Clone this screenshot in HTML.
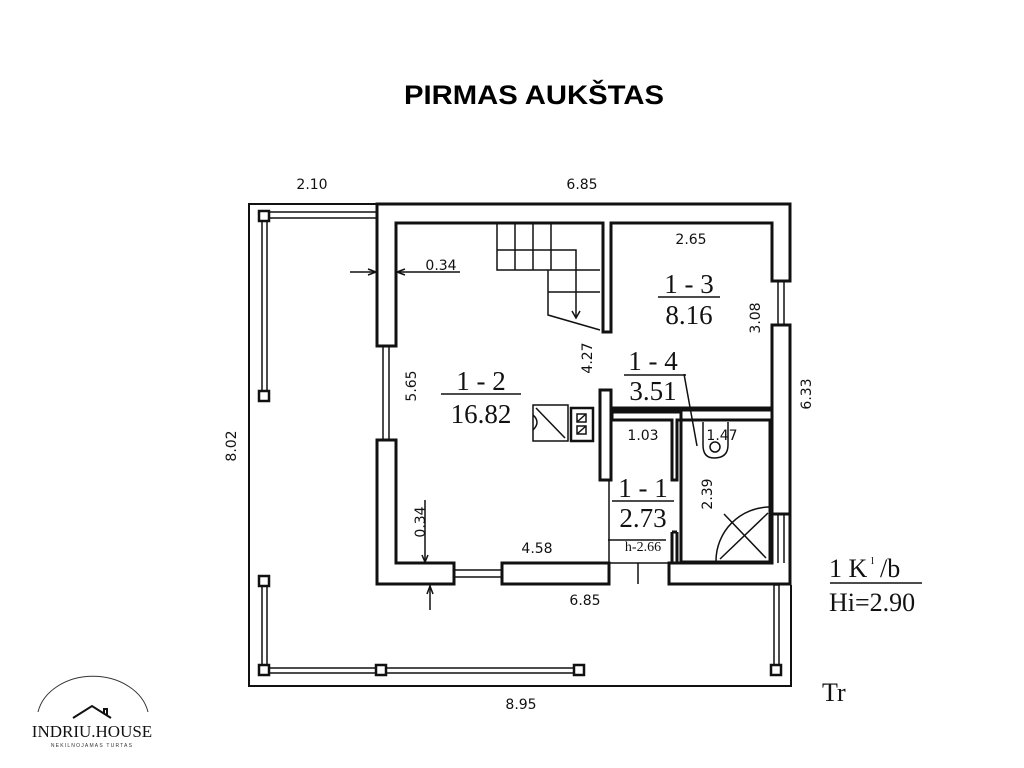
<!DOCTYPE html>
<html><head><meta charset="utf-8"><style>
html,body{margin:0;padding:0;background:#fff;width:1024px;height:768px;overflow:hidden}
svg{display:block}
.d{font-family:"DejaVu Sans","Liberation Sans",sans-serif;font-size:14px;fill:#111}
.s{font-family:"Liberation Serif",serif;fill:#111}
</style></head><body>
<svg width="1024" height="768" viewBox="0 0 1024 768" xmlns="http://www.w3.org/2000/svg">
<text x="534" y="104" text-anchor="middle" textLength="260" lengthAdjust="spacingAndGlyphs" style="font-family:'Liberation Sans',sans-serif;font-weight:bold;font-size:27px" fill="#000">PIRMAS AUKŠTAS</text>

<g fill="none" stroke="#111" stroke-width="2">
<polyline points="377,204 249,204 249,686 791,686 791,585"/>
<rect x="263" y="212" width="114" height="6" stroke-width="1.5"/>
<rect x="262" y="218" width="5" height="178" stroke-width="1.5"/>
<rect x="262" y="584" width="5" height="86" stroke-width="1.5"/>
<rect x="268" y="668" width="312" height="5" stroke-width="1.5"/>
<rect x="774" y="585" width="5" height="82" stroke-width="1.5"/>
</g>
<g fill="#fff" stroke="#111" stroke-width="2.5">
<rect x="259" y="211" width="10" height="10"/>
<rect x="259" y="391" width="10" height="10"/>
<rect x="259" y="576" width="10" height="10"/>
<rect x="259" y="665" width="10" height="10"/>
<rect x="376" y="665" width="10" height="10"/>
<rect x="574" y="665" width="10" height="10"/>
<rect x="771" y="665" width="10" height="10"/>
</g>

<g fill="none" stroke="#111" stroke-width="3">
<path d="M377,204 H790 V281 H772 V223 H611 V332 H603 V223 H396 V346 H377 Z"/>
<path d="M377,440 H396 V563 H454 V584 H377 Z"/>
<path d="M502,563 H609 V584 H502 Z"/>
<path d="M669,563 H772 V514 H790 V584 H669 Z"/>
<path d="M772,325 H790 V514 H772 Z" />
<path d="M603,390 H611 V410 H772 V408 M611,408 H772"/>
<path d="M600,390 H611 V480 H600 Z"/>
<path d="M612,412 V420 H672 V480 H677 V420 H681 V412 Z"/>
<path d="M672,532 V563 M677,532 V563 M672,532 H677"/>
<path d="M681,420 H770 V562 H681 Z"/>
</g>
<g stroke="#111" stroke-width="1.5" fill="none">
<line x1="383" y1="346" x2="383" y2="440"/><line x1="389" y1="346" x2="389" y2="440"/>
<line x1="778" y1="281" x2="778" y2="325"/><line x1="784" y1="281" x2="784" y2="325"/>
<line x1="778" y1="514" x2="778" y2="563"/><line x1="784" y1="514" x2="784" y2="563"/>
<line x1="454" y1="570" x2="502" y2="570"/><line x1="454" y1="577" x2="502" y2="577"/>
<line x1="454" y1="563" x2="454" y2="584"/><line x1="502" y1="563" x2="502" y2="584"/>
<line x1="609" y1="563" x2="669" y2="563"/>
<line x1="638" y1="563" x2="638" y2="584"/>
<line x1="609" y1="480" x2="609" y2="563"/>
<path d="M497,223 V270 H548 V315 L600,330 M515,223 V270 M533,223 V270 M551,223 V270 M497,250 H576 V315 M548,270 H600 M548,292 H600 M576,300 V318"/>
<path d="M572,311 L576,318 L580,311"/>
<rect x="533" y="405" width="35" height="36"/>
<line x1="536" y1="408" x2="565" y2="438"/>
<path d="M533,415 Q541,422 533,430"/>
<rect x="571" y="408" width="22" height="33" stroke-width="2.5"/>
<rect x="577" y="414" width="9" height="8"/><rect x="577" y="426" width="9" height="8"/>
<line x1="577" y1="422" x2="586" y2="414"/><line x1="577" y1="434" x2="586" y2="426"/>
<path d="M703,422 V445 Q703,458 714,458 Q728,458 728,445 V422"/>
<circle cx="715" cy="447" r="5"/>
<line x1="684" y1="374" x2="697" y2="446"/>
<path d="M716,561 A54,54 0 0 1 770,507"/>
<line x1="720" y1="559" x2="768" y2="513"/>
<line x1="724" y1="514" x2="766" y2="558"/>
<line x1="350" y1="272" x2="377" y2="272"/><line x1="396" y1="272" x2="460" y2="272"/>
<path d="M368,269 L376,272 L368,275 M405,269 L397,272 L405,275"/>
<line x1="425" y1="500" x2="425" y2="563"/><line x1="430" y1="585" x2="430" y2="610"/>
<path d="M422,555 L425,562 L428,555 M427,594 L430,586 L433,594"/>
<line x1="608" y1="540" x2="666" y2="540"/>
<line x1="441" y1="394" x2="521" y2="394"/>
<line x1="658" y1="297" x2="720" y2="297"/>
<line x1="624" y1="375" x2="686" y2="375"/>
<line x1="612" y1="501" x2="674" y2="501"/>
<line x1="830" y1="583" x2="922" y2="583"/>
</g>

<g class="d">
<text x="312" y="189" text-anchor="middle">2.10</text>
<text x="582" y="189" text-anchor="middle">6.85</text>
<text x="441" y="270" text-anchor="middle">0.34</text>
<text x="691" y="244" text-anchor="middle">2.65</text>
<text x="643" y="440" text-anchor="middle">1.03</text>
<text x="722" y="440" text-anchor="middle">1.47</text>
<text x="537" y="553" text-anchor="middle">4.58</text>
<text x="585" y="605" text-anchor="middle">6.85</text>
<text x="521" y="709" text-anchor="middle">8.95</text>
<text transform="translate(236,446) rotate(-90)" text-anchor="middle">8.02</text>
<text transform="translate(416,386) rotate(-90)" text-anchor="middle">5.65</text>
<text transform="translate(592,358) rotate(-90)" text-anchor="middle">4.27</text>
<text transform="translate(760,318) rotate(-90)" text-anchor="middle">3.08</text>
<text transform="translate(811,394) rotate(-90)" text-anchor="middle">6.33</text>
<text transform="translate(712,494) rotate(-90)" text-anchor="middle">2.39</text>
<text transform="translate(425,522) rotate(-90)" text-anchor="middle">0.34</text>
</g>
<g class="s">
<text x="481" y="390" text-anchor="middle" font-size="27">1 - 2</text>
<text x="481" y="423" text-anchor="middle" font-size="27">16.82</text>
<text x="689" y="293" text-anchor="middle" font-size="27">1 - 3</text>
<text x="689" y="324" text-anchor="middle" font-size="27">8.16</text>
<text x="653" y="370" text-anchor="middle" font-size="27">1 - 4</text>
<text x="653" y="400" text-anchor="middle" font-size="27">3.51</text>
<text x="643" y="497" text-anchor="middle" font-size="27">1 - 1</text>
<text x="643" y="527" text-anchor="middle" font-size="27">2.73</text>
<text x="643" y="551" text-anchor="middle" font-size="14">h-2.66</text>
<text x="829" y="577" font-size="26">1 K</text><text x="871" y="564" font-size="11">l</text><text x="880" y="577" font-size="26">/b</text>
<text x="829" y="611" font-size="26">Hi=2.90</text>
<text x="822" y="701" font-size="26">Tr</text>
</g>

<path d="M38,712 A56,44 0 0 1 148,712" fill="none" stroke="#333" stroke-width="1"/>
<path d="M73,718 L92,706 L111,718 M104,713 V709 H107 V715" fill="none" stroke="#111" stroke-width="2"/>
<text x="92" y="737" text-anchor="middle" style="font-family:'Liberation Serif',serif;font-size:17px" fill="#111">INDRIU.HOUSE</text>
<text x="92" y="747" text-anchor="middle" style="font-family:'Liberation Sans',sans-serif;font-size:5px;letter-spacing:1.2px" fill="#333">NEKILNOJAMAS TURTAS</text>
</svg>
</body></html>
